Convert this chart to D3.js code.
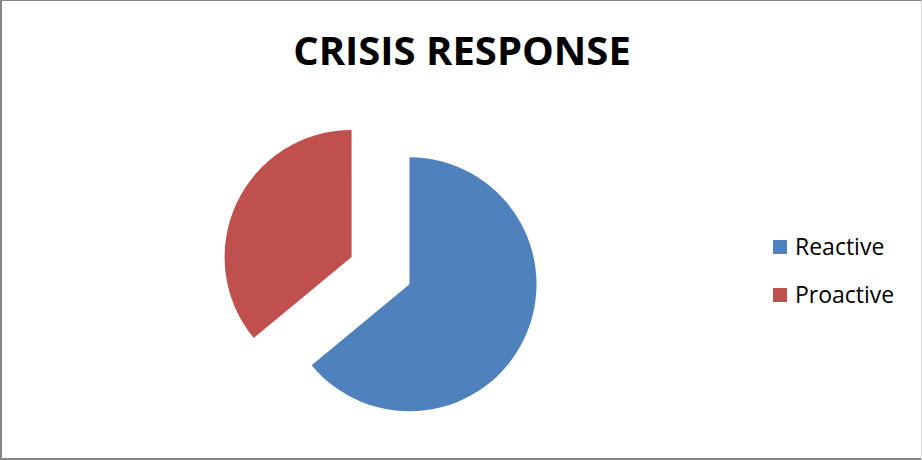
<!DOCTYPE html>
<html>
<head>
<meta charset="utf-8">
<script src="https://cdn.jsdelivr.net/npm/d3@7"></script>
<style>
  html, body { margin: 0; padding: 0; background: #fff; }
  svg { display: block; }
</style>
</head>
<body>
<svg id="chart" width="922" height="460"></svg>
<script>
// Crisis response split
const categories = ["Reactive", "Proactive"];
const shares = [64, 36];
const colors = ["#4F81BD", "#C0504D"];
const title = "CRISIS RESPONSE";

const W = 922, H = 460;
const svg = d3.select("#chart");

// chart frame
svg.append("rect").attr("width", W).attr("height", H).attr("fill", "#fff");
const frame = svg.append("g").attr("fill", "#868686");
frame.append("rect").attr("x", 0).attr("y", 0).attr("width", W).attr("height", 1);
frame.append("rect").attr("x", 0).attr("y", 0).attr("width", 2).attr("height", H);
frame.append("rect").attr("x", 0).attr("y", H - 2).attr("width", W).attr("height", 2);
frame.append("rect").attr("x", W - 1).attr("y", 0).attr("width", 1).attr("height", H)
  .attr("fill", "#d9d9d9");

// title
svg.append("text")
  .attr("x", 462).attr("y", 65)
  .attr("text-anchor", "middle")
  .attr("font-family", "'Open Sans', sans-serif")
  .attr("font-weight", 700)
  .attr("font-size", 40)
  .attr("fill", "#000")
  .text(title);

// pie
const cx = 409.5, cy = 284.3, radius = 127, explode = 64;
const data = categories.map((c, i) => ({ name: c, value: shares[i], color: colors[i] }));
const pie = d3.pie().value(d => d.value).sort(null).startAngle(0).endAngle(2 * Math.PI);
const arc = d3.arc().innerRadius(0).outerRadius(radius);
const arcs = pie(data);

const g = svg.append("g").attr("transform", `translate(${cx},${cy})`);
g.selectAll("path")
  .data(arcs)
  .join("path")
  .attr("d", arc)
  .attr("fill", d => d.data.color)
  .attr("transform", d => {
    if (d.data.name !== "Proactive") return null;
    const mid = (d.startAngle + d.endAngle) / 2;
    return `translate(${explode * Math.sin(mid)},${-explode * Math.cos(mid)})`;
  });

// legend
const legend = svg.append("g").attr("transform", "translate(773,240)");
const items = legend.selectAll("g")
  .data(data)
  .join("g")
  .attr("transform", (d, i) => `translate(0,${i * 48})`);
items.append("rect")
  .attr("width", 14).attr("height", 14)
  .attr("fill", d => d.color);
items.append("text")
  .attr("x", 22).attr("y", 14.5)
  .attr("font-family", "'Open Sans', sans-serif")
  .attr("font-size", 23)
  .attr("fill", "#000")
  .text(d => d.name);
</script>
</body>
</html>
